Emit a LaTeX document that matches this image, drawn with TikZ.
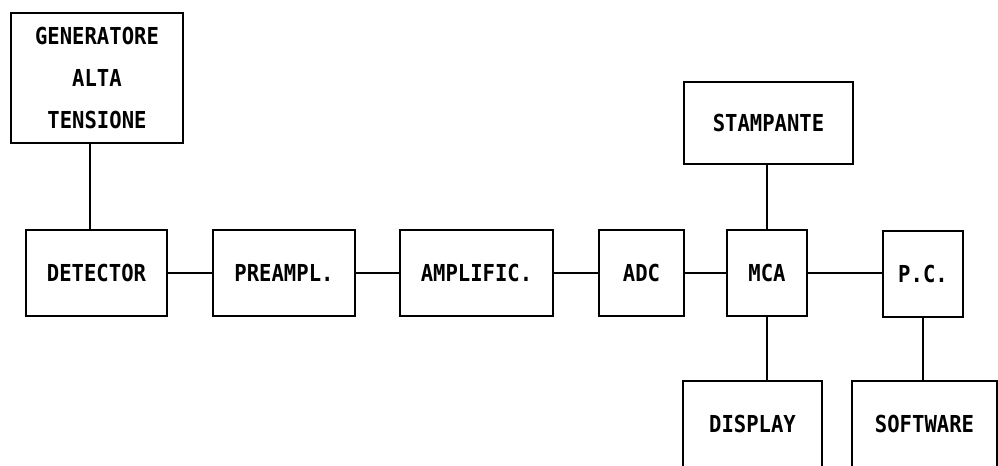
\documentclass[tikz,border=0pt]{standalone}
\usepackage{fontspec}
\setmonofont[FakeStretch=0.88]{DejaVu Sans Mono}
\begin{document}
\begin{tikzpicture}[x=0.02cm,y=-0.02cm,line width=1.2pt,
  blocco/.style={draw,line width=1.2pt,minimum height=1.72cm,inner sep=0pt,align=center,
    font=\ttfamily\bfseries\fontsize{13.3pt}{23.9pt}\selectfont}]
  \clip (0,0) rectangle (998,466);
  \node[blocco,minimum width=3.44cm,minimum height=2.6cm] (gen) at (97,78) {GENERATORE\\ALTA\\TENSIONE};
  \node[blocco,minimum width=2.82cm] (det) at (96.5,273) {DETECTOR};
  \node[blocco,minimum width=2.84cm] (pre) at (284,273) {PREAMPL.};
  \node[blocco,minimum width=3.06cm] (amp) at (476.5,273) {AMPLIFIC.};
  \node[blocco,minimum width=1.7cm] (adc) at (641.5,273) {ADC};
  \node[blocco,minimum width=1.6cm] (mca) at (767,273) {MCA};
  \node[blocco,minimum width=1.6cm] (pc) at (923,274) {P.C.};
  \node[blocco,minimum width=3.38cm,minimum height=1.64cm] (sta) at (768.5,123) {STAMPANTE};
  \node[blocco,minimum width=2.78cm] (dis) at (752.5,424) {DISPLAY};
  \node[blocco,minimum width=2.9cm] (sw) at (924.5,424) {SOFTWARE};
  % collegamenti
  \draw ([xshift=-0.13cm]det.north) -- ([xshift=-0.13cm]det.north |- gen.south);
  \draw (det.east) -- (pre.west);
  \draw (pre.east) -- (amp.west);
  \draw (amp.east) -- (adc.west);
  \draw (adc.east) -- (mca.west);
  \draw (mca.east) -- (mca.east -| pc.west);
  \draw (mca.north) -- (mca.north |- sta.south);
  \draw (mca.south) -- (mca.south |- dis.north);
  \draw (pc.south) -- (pc.south |- sw.north);
\end{tikzpicture}
\end{document}
